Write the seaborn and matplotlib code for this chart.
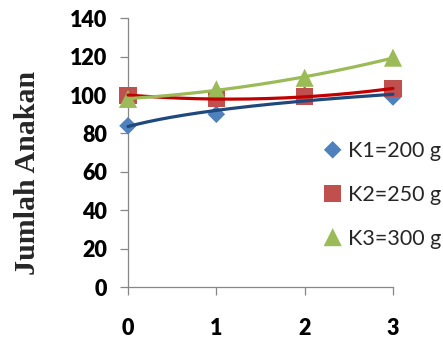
import numpy as np
import pandas as pd
import matplotlib
matplotlib.use("Agg")
import matplotlib.pyplot as plt
import seaborn as sns

# Observations per treatment over the four sampling points
weeks = [0, 1, 2, 3]
k1_values = [84, 90, 100, 99]
k2_values = [100, 98, 99, 103.5]
k3_values = [98, 103, 109, 119.5]
series_labels = ["K1=200 g", "K2=250 g", "K3=300 g"]
y_ticks = [0, 20, 40, 60, 80, 100, 120, 140]

marker_colors = ["#4F81BD", "#C0504D", "#9BBB59"]
trend_colors = ["#1F497D", "#C00000", "#9BBB59"]
markers = ["D", "s", "^"]
marker_sizes = [80, 150, 170]

sns.set_theme(style="white")
plt.rcParams["font.family"] = ["Lato", "DejaVu Sans"]

fig = plt.figure(figsize=(4.43, 3.39), dpi=100)
ax = fig.add_axes([128 / 443, 1 - 287 / 339, 265 / 443, 268.7 / 339])

df = pd.DataFrame({
    "week": weeks * 3,
    "value": k1_values + k2_values + k3_values,
    "series": [lab for lab in series_labels for _ in weeks],
})

# Markers for each treatment
for i, lab in enumerate(series_labels):
    sub = df[df["series"] == lab]
    sns.scatterplot(data=sub, x="week", y="value", marker=markers[i],
                    s=marker_sizes[i], color=marker_colors[i], edgecolor="none",
                    linewidth=0, label=lab, ax=ax, clip_on=False, zorder=3 + i)

# Trend lines fitted to each series
xs = np.linspace(0, 3, 200)
x_arr = np.array(weeks, dtype=float)
c1 = np.polyfit(np.log(x_arr + 1), k1_values, 1)
trend1 = np.polyval(c1, np.log(xs + 1))
c2 = np.polyfit(x_arr, k2_values, 2)
trend2 = np.polyval(c2, xs)
c3 = np.polyfit(x_arr, k3_values, 2)
trend3 = np.polyval(c3, xs)

for trend, col, z in [(trend1, trend_colors[0], 7), (trend2, trend_colors[1], 8),
                      (trend3, trend_colors[2], 9)]:
    sns.lineplot(x=xs, y=trend, color=col, linewidth=2.3, ax=ax,
                 clip_on=False, zorder=z, legend=False)

ax.set_xlim(0, 3)
ax.set_ylim(0, 140)
ax.set_xticks(weeks)
ax.set_xticklabels([str(w) for w in weeks])
ax.set_yticks(y_ticks)
ax.set_yticklabels([str(t) for t in y_ticks])

for side in ["top", "right"]:
    ax.spines[side].set_visible(False)
for side in ["left", "bottom"]:
    ax.spines[side].set_color("#868686")
    ax.spines[side].set_linewidth(0.9)

ax.tick_params(axis="both", which="major", direction="out", length=6,
               width=0.9, color="#868686", labelsize=15.5, labelcolor="black")
ax.tick_params(axis="x", pad=16)
ax.tick_params(axis="y", pad=9)
ax.tick_params(axis="both", left=True, bottom=True)
for lbl in ax.get_xticklabels() + ax.get_yticklabels():
    lbl.set_fontweight("heavy")

ax.set_xlabel("")
ax.set_ylabel("Jumlah Anakan", fontfamily="Liberation Serif", fontweight="bold",
              fontsize=21.5, va="center")
ax.yaxis.set_label_coords(-0.381, 0.426)

handles, labels = ax.get_legend_handles_labels()
ax.legend(handles, labels, loc="center left", bbox_to_anchor=(323 / 443, 1 - 195 / 339),
          bbox_transform=fig.transFigure, frameon=False, fontsize=15.5,
          handlelength=0.9, handletextpad=0.25, labelspacing=1.1,
          borderpad=0, borderaxespad=0, scatteryoffsets=[0.5])

fig.savefig("out.png", dpi=100)
